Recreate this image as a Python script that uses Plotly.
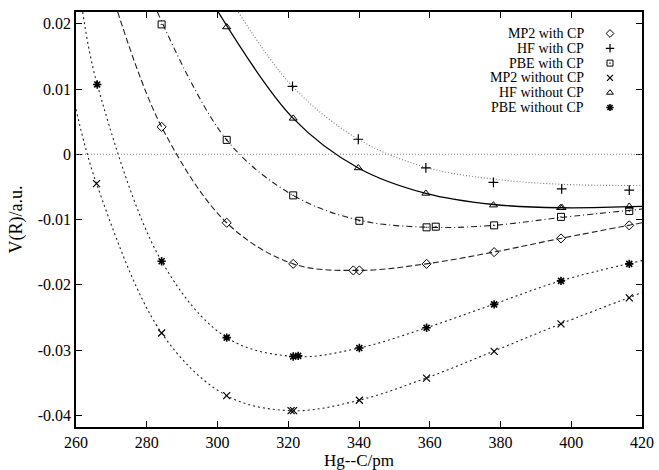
import plotly.graph_objects as go

# ---- measured data points (R in pm, V in a.u.) ----
mp2_cp_x = [284.2, 302.6, 321.4, 338.4, 340.1, 359.1, 378.2, 397.1, 416.4]
mp2_cp_y = [0.0042, -0.0105, -0.0168, -0.0178, -0.0178, -0.0168, -0.0150, -0.0129, -0.0109]

hf_cp_x = [321.2, 339.8, 358.9, 378.0, 397.3, 416.4]
hf_cp_y = [0.0104, 0.0023, -0.0021, -0.0043, -0.0053, -0.0055]

pbe_cp_x = [284.2, 302.6, 321.4, 340.1, 359.1, 361.7, 378.2, 397.1, 416.4]
pbe_cp_y = [0.0199, 0.0022, -0.0063, -0.0102, -0.0112, -0.0111, -0.0109, -0.0096, -0.0087]

mp2_nocp_x = [265.8, 284.2, 302.6, 320.8, 321.5, 340.1, 359.1, 378.2, 397.1, 416.4]
mp2_nocp_y = [-0.0045, -0.0274, -0.0370, -0.0393, -0.0393, -0.0377, -0.0343, -0.0302, -0.0260, -0.0220]

hf_nocp_x = [302.6, 321.4, 339.8, 358.9, 378.0, 397.0, 397.4, 416.4]
hf_nocp_y = [0.0195, 0.0055, -0.0021, -0.0060, -0.0078, -0.0082, -0.0082, -0.0080]

pbe_nocp_x = [266.0, 284.2, 302.6, 321.4, 322.8, 340.1, 359.1, 378.2, 397.1, 416.4]
pbe_nocp_y = [0.0107, -0.0164, -0.0281, -0.0310, -0.0309, -0.0297, -0.0266, -0.0230, -0.0194, -0.0168]

# ---- fitted curves ----
mp2_cp_fit_x = [271.8, 284.2, 302.6, 321.4, 340.0, 359.0, 378.0, 397.0, 420.0]
mp2_cp_fit_y = [0.0218, 0.0042, -0.0105, -0.0168, -0.0178, -0.0168, -0.0150, -0.0129, -0.0105]

hf_cp_fit_x = [305.9, 321.2, 339.8, 358.9, 378.0, 397.0, 420.0]
hf_cp_fit_y = [0.0218, 0.0104, 0.0023, -0.0020, -0.0038, -0.0046, -0.0048]

pbe_cp_fit_x = [283.0, 302.6, 321.4, 340.0, 360.0, 378.0, 397.0, 420.0]
pbe_cp_fit_y = [0.0218, 0.0022, -0.0063, -0.0101, -0.0112, -0.0109, -0.0097, -0.0084]

mp2_nocp_fit_x = [260.0, 265.8, 284.2, 302.6, 321.0, 340.0, 359.0, 378.0, 397.0, 420.0]
mp2_nocp_fit_y = [0.0069, -0.0045, -0.0274, -0.0370, -0.0393, -0.0377, -0.0343, -0.0302, -0.0260, -0.0212]

hf_nocp_fit_x = [300.2, 321.4, 339.8, 358.9, 378.0, 397.0, 420.0]
hf_nocp_fit_y = [0.0218, 0.0055, -0.0021, -0.0060, -0.0077, -0.0082, -0.0080]

pbe_nocp_fit_x = [261.9, 266.0, 284.2, 302.6, 321.8, 340.0, 359.0, 378.0, 397.0, 420.0]
pbe_nocp_fit_y = [0.0218, 0.0107, -0.0164, -0.0281, -0.0310, -0.0297, -0.0266, -0.0230, -0.0194, -0.0163]

x_ticks = [260, 280, 300, 320, 340, 360, 380, 400, 420]
y_ticks = [0.02, 0.01, 0, -0.01, -0.02, -0.03, -0.04]
y_tick_text = ["0.02", "0.01", "0", "-0.01", "-0.02", "-0.03", "-0.04"]

FONT = "Liberation Serif"
W, H = 659, 470
ML, MR, MT, MB = 76, 17, 12, 43
PW, PH = W - ML - MR, H - MT - MB

fig = go.Figure()

fits = [
    (mp2_cp_fit_x, mp2_cp_fit_y, "#222", "6px,3px", 1.1),
    (hf_cp_fit_x, hf_cp_fit_y, "#777", "1px,2px", 1.1),
    (pbe_cp_fit_x, pbe_cp_fit_y, "#222", "6px,3px,1px,3px", 1.1),
    (mp2_nocp_fit_x, mp2_nocp_fit_y, "#222", "2px,3px", 1.1),
    (hf_nocp_fit_x, hf_nocp_fit_y, "#000", "solid", 1.3),
    (pbe_nocp_fit_x, pbe_nocp_fit_y, "#222", "2px,3px", 1.1),
]
for fx, fy, col, dash, w in fits:
    fig.add_trace(go.Scatter(x=fx, y=fy, mode="lines", showlegend=False,
                             line=dict(color=col, dash=dash, width=w, shape="spline", smoothing=1.0),
                             hoverinfo="skip"))

series = [
    ("MP2 with CP", mp2_cp_x, mp2_cp_y, "diamond-open", 7, 1.0),
    ("HF with CP", hf_cp_x, hf_cp_y, "cross-thin-open", 7, 1.2),
    ("PBE with CP", pbe_cp_x, pbe_cp_y, "square-open-dot", 7, 1.0),
    ("MP2 without CP", mp2_nocp_x, mp2_nocp_y, "x-thin-open", 7, 1.2),
    ("HF without CP", hf_nocp_x, hf_nocp_y, "triangle-up-open", 7, 1.0),
    ("PBE without CP", pbe_nocp_x, pbe_nocp_y, "asterisk-open", 7, 1.6),
]
for name, sx, sy, sym, sz, lw in series:
    fig.add_trace(go.Scatter(x=sx, y=sy, mode="markers", name=name, showlegend=False,
                             marker=dict(symbol=sym, size=sz, color="black",
                                         line=dict(color="black", width=lw))))

# ---- gnuplot-style key: right-aligned text, symbol on the right ----
key_text_right = 510 / PW      # fraction of plot width
key_sym_x = 534 / PW
key_top = 21.5                  # px below top of plot area
key_step = 14.8                 # px per row
for i, (name, sx, sy, sym, sz, lw) in enumerate(series):
    yf = 1 - (key_top + key_step * i) / PH
    fig.add_annotation(x=key_text_right, y=yf, xref="x2", yref="y2", text=name,
                       showarrow=False, xanchor="right", yanchor="middle",
                       font=dict(family=FONT, size=14, color="black"))
    fig.add_trace(go.Scatter(x=[key_sym_x], y=[yf], xaxis="x2", yaxis="y2",
                             mode="markers", showlegend=False, hoverinfo="skip",
                             marker=dict(symbol=sym, size=sz - 1, color="black",
                                         line=dict(color="black", width=lw))))

fig.add_hline(y=0, line=dict(color="#888", dash="1px,2px", width=1))

axis_common = dict(
    showline=True, linecolor="black", linewidth=1.5, mirror="ticks",
    ticks="inside", ticklen=6, tickwidth=1, tickcolor="black",
    showgrid=False, zeroline=False, automargin=False,
    tickfont=dict(family=FONT, size=16, color="black"),
)

fig.update_xaxes(range=[260, 420], tickvals=x_ticks,
                 title=dict(text="Hg--C/pm", font=dict(family=FONT, size=17, color="black"), standoff=2),
                 **axis_common)
fig.update_yaxes(range=[-0.0418, 0.0218], tickvals=y_ticks, ticktext=y_tick_text,
                 title=dict(text="V(R)/a.u.", font=dict(family=FONT, size=18, color="black"), standoff=10),
                 **axis_common)

fig.update_layout(
    width=W, height=H,
    margin=dict(l=ML, r=MR, t=MT, b=MB),
    paper_bgcolor="white", plot_bgcolor="white",
    font=dict(family=FONT, color="black"),
    showlegend=False,
    xaxis2=dict(overlaying="x", range=[0, 1], visible=False, showgrid=False, zeroline=False),
    yaxis2=dict(overlaying="y", range=[0, 1], visible=False, showgrid=False, zeroline=False),
)

fig.write_html("out.html", config={"displayModeBar": False},
               post_script="document.body.style.margin='0';document.body.style.padding='0';")
